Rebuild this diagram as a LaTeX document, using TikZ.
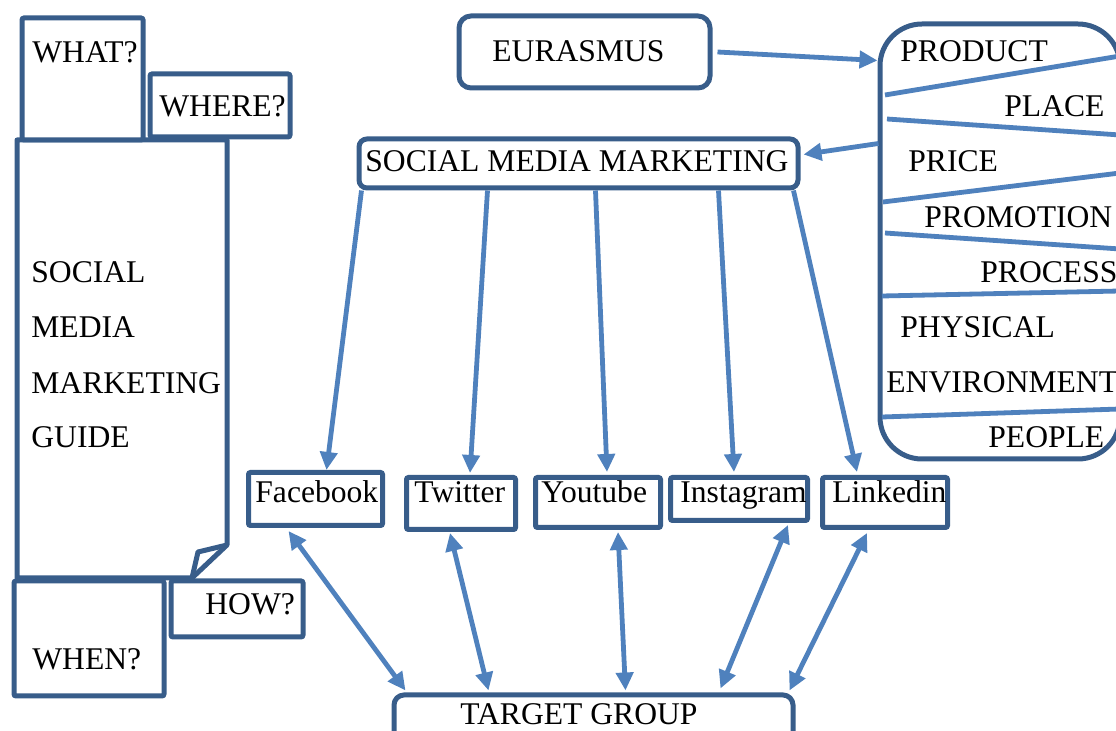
\documentclass[tikz,border=0pt]{standalone}
\usepackage{fontspec}
\setmainfont{Liberation Serif}
\usetikzlibrary{calc,arrows.meta}
\definecolor{boxc}{RGB}{56,93,138}
\definecolor{arrc}{RGB}{79,129,189}
\begin{document}
\begin{tikzpicture}[x=0.5pt,y=-0.5pt,
  box/.style={draw=boxc,line width=2.5pt,fill=white,inner sep=0pt,rectangle,rounded corners=1pt},
  rbox/.style={box,rounded corners=#1},
  lbl/.style={inner sep=0pt,anchor=base west,font=\fontsize{15.8}{18}\selectfont},
  arr/.style={draw=arrc,line width=2.4pt,-{Triangle[length=9pt,width=8.5pt]}},
  darr/.style={draw=arrc,line width=2.4pt,{Triangle[length=9pt,width=8.5pt]}-{Triangle[length=9pt,width=8.5pt]}},
  ln/.style={draw=arrc,line width=2.4pt},
  outl/.style={draw=boxc,line width=2.5pt,line join=round}]
\useasboundingbox (0,0) rectangle (1116,731);

% ---- left guide (folded page) ----
\draw[outl,fill=white] (17,140) -- (227,140) -- (227,545) -- (192,578) -- (17,578) -- cycle;
\draw[outl] (227,545) -- (198,552) -- (192,578);
\node[lbl] (g1) at (31,283) {SOCIAL};
\node[lbl] (g2) at (31,338) {MEDIA};
\node[lbl] (g3) at (31,394) {MARKETING};
\node[lbl] (g4) at (31,448) {GUIDE};

\node[box, minimum width=60.5pt, minimum height=61pt] (what) at (82.5,79) {};
\node[lbl] (twhat) at (32,63) {WHAT?};
\node[box, minimum width=70pt, minimum height=31.5pt] (where) at (220,105.5) {};
\node[lbl] (twhere) at (159,117) {WHERE?};
\node[box, minimum width=75pt, minimum height=57.5pt] (when) at (89,638.5) {};
\node[lbl] (twhen) at (32,670) {WHEN?};
\node[box, minimum width=66pt, minimum height=28pt] (how) at (237,609) {};
\node[lbl] (thow) at (205,615) {HOW?};

% ---- centre ----
\node[rbox=6pt, minimum width=125.5pt, minimum height=36pt] (eur) at (584.5,52) {};
\node[lbl] (teur) at (492,62) {EURASMUS};
\node[rbox=4pt, minimum width=219.5pt, minimum height=24.5pt] (smm) at (578.5,163.5) {};
\node[lbl] (tsmm) at (365,172) {SOCIAL MEDIA MARKETING};

% ---- 7P box ----
\node[rbox=21pt, minimum width=120pt, minimum height=217.5pt] (ps) at (1000,241.5) {};
\draw[ln] (885,95) -- (1120,56);
\draw[ln] (887,119) -- (1120,135);
\draw[ln] (883,202) -- (1120,173);
\draw[ln] (885,233) -- (1120,249);
\draw[ln] (882,296) -- (1120,291);
\draw[ln] (882,417) -- (1120,409);
\node[lbl] (p1) at (900,62) {PRODUCT};
\node[lbl] (p2) at (1004,117) {PLACE};
\node[lbl] (p3) at (908,172) {PRICE};
\node[lbl] (p4) at (924,228) {PROMOTION};
\node[lbl] (p5) at (980,283) {PROCESS};
\node[lbl] (p6) at (900,338) {PHYSICAL};
\node[lbl] (p7) at (886,393) {ENVIRONMENT};
\node[lbl] (p8) at (988,448) {PEOPLE};

% ---- media boxes ----
\node[box, minimum width=67pt, minimum height=26.5pt] (fb) at (315.5,499) {};
\node[lbl] (tfb) at (255,503) {Facebook};
\node[box, minimum width=54.5pt, minimum height=26pt] (tw) at (461,503.5) {};
\node[lbl] (ttw) at (414,503) {Twitter};
\node[box, minimum width=62.5pt, minimum height=25pt] (yt) at (598,502.5) {};
\node[lbl] (tyt) at (541,503) {Youtube};
\node[box, minimum width=68.5pt, minimum height=21.5pt] (ig) at (739,499) {};
\node[lbl] (tig) at (680,503) {Instagram};
\node[box, minimum width=62.5pt, minimum height=25pt] (li) at (885,502.5) {};
\node[lbl] (tli) at (832,503) {Linkedin};

% ---- target ----
\node[rbox=5pt, minimum width=199.5pt, minimum height=32.5pt] (tg) at (593.5,727.5) {};
\node[lbl] (ttg) at (460,725) {TARGET GROUP};

% ---- connectors ----
\draw[arr] ($(eur.east)+(5,0)$) -- ($(ps.north west)+(0,39)$);
\draw[arr] ($(ps.north west)+(1,122)$) -- ($(smm.east)+(3,-9)$);
\draw[ln] ($(eur.south)+(0,7)$) -- ($(eur.south)+(0,7)$ |- smm.north);

\draw[arr] ($(smm.south west)+(5,0)$) -- ($(fb.north)+(11,0)$);
\draw[arr] ($(smm.south west)+(131,0)$) -- ($(tw.north)+(9,-2)$);
\draw[arr] ($(smm.south west)+(239,0)$) -- ($(yt.north)+(9,-3)$);
\draw[arr] ($(smm.south west)+(362,0)$) -- ($(ig.north)+(-5,-3)$);
\draw[arr] ($(smm.south west)+(437,0)$) -- ($(li.north)+(-28,-3)$);

\draw[darr] ($(fb.south)+(-27,3)$) -- ($(tg.north west)+(14,-2)$);
\draw[darr] ($(tw.south)+(-11,1)$) -- ($(tg.north west)+(97,-2)$);
\draw[darr] ($(yt.south)+(20,2)$) -- ($(tg.north west)+(234,-2)$);
\draw[darr] ($(ig.south)+(49,2)$) -- ($(tg.north west)+(329,-4)$);
\draw[darr] ($(li.south)+(-18,3)$) -- ($(tg.north east)+(-6,-2)$);
\end{tikzpicture}
\end{document}
